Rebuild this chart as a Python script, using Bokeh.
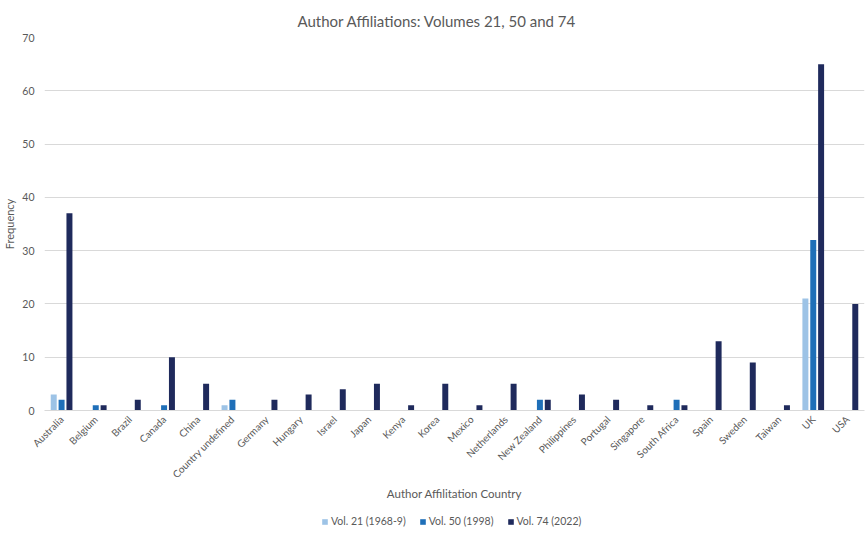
from bokeh.plotting import figure
from bokeh.layouts import column
from bokeh.models import ColumnDataSource, FactorRange, Legend, LegendItem, Range1d
from bokeh.transform import dodge
from bokeh.embed import file_html
from bokeh.resources import INLINE
import math

countries = ["Australia", "Belgium", "Brazil", "Canada", "China", "Country undefined",
             "Germany", "Hungary", "Israel", "Japan", "Kenya", "Korea", "Mexico",
             "Netherlands", "New Zealand", "Philippines", "Portugal", "Singapore",
             "South Africa", "Spain", "Sweden", "Taiwan", "UK", "USA"]
vol21 = [3, 0, 0, 0, 0, 1, 0, 0, 0, 0, 0, 0, 0, 0, 0, 0, 0, 0, 0, 0, 0, 0, 21, 0]
vol50 = [2, 1, 0, 1, 0, 2, 0, 0, 0, 0, 0, 0, 0, 0, 2, 0, 0, 0, 2, 0, 0, 0, 32, 0]
vol74 = [37, 1, 2, 10, 5, 0, 2, 3, 4, 5, 1, 5, 1, 5, 2, 3, 2, 1, 1, 13, 9, 1, 65, 20]
series_names = ["Vol. 21 (1968-9)", "Vol. 50 (1998)", "Vol. 74 (2022)"]
y_ticks = [0, 10, 20, 30, 40, 50, 60, 70]

colors = ["#9dc3e6", "#1f6fb8", "#1f2a5c"]
FONT = "Lato"
TXT = "#595959"
keys = ["v21", "v50", "v74"]
offsets = [-0.23, 0.0, 0.23]

src = ColumnDataSource(dict(country=countries, v21=vol21, v50=vol50, v74=vol74))

p = figure(width=865, height=510, x_range=FactorRange(*countries, range_padding=0),
           y_range=(0, 70), output_backend="svg", toolbar_location=None,
           min_border_left=41, min_border_right=1, min_border_top=37, min_border_bottom=100)

p.title.text = "Author Affiliations: Volumes 21, 50 and 74"
p.title.align = "left"
p.title.offset = 253
p.title.standoff = 16
p.title.text_font = FONT
p.title.text_font_size = "15px"
p.title.text_font_style = "normal"
p.title.text_color = TXT

for key, off, col in zip(keys, offsets, colors):
    p.vbar(x=dodge("country", off, range=p.x_range), top=key, width=0.175,
           source=src, fill_color=col, line_color=None)

p.outline_line_color = None
p.background_fill_color = "white"
p.border_fill_color = "white"

p.xgrid.grid_line_color = None
p.ygrid.grid_line_color = "#d9d9d9"
p.ygrid.grid_line_width = 1

p.yaxis.ticker = y_ticks
p.yaxis.axis_line_color = None
p.yaxis.major_tick_line_color = None
p.yaxis.major_tick_out = 0
p.yaxis.major_tick_in = 0
p.yaxis.minor_tick_line_color = None
p.yaxis.major_label_text_font = FONT
p.yaxis.major_label_text_font_size = "10.5px"
p.yaxis.major_label_text_color = TXT
p.yaxis.major_label_standoff = 10
p.yaxis.axis_label = "Frequency"
p.yaxis.axis_label_text_font = FONT
p.yaxis.axis_label_text_font_size = "11px"
p.yaxis.axis_label_text_font_style = "normal"
p.yaxis.axis_label_text_color = TXT
p.yaxis.axis_label_standoff = 3

p.xaxis.axis_line_color = "#d9d9d9"
p.xaxis.major_tick_line_color = None
p.xaxis.major_tick_out = 0
p.xaxis.major_tick_in = 0
p.xaxis.minor_tick_line_color = None
p.xaxis.major_label_orientation = math.pi / 4
p.xaxis.major_label_text_font = FONT
p.xaxis.major_label_text_font_size = "10px"
p.xaxis.major_label_text_color = TXT
p.xaxis.major_label_standoff = 7
p.xaxis.axis_label = "Author Affilitation Country"
p.xaxis.axis_label_text_font = FONT
p.xaxis.axis_label_text_font_size = "11.5px"
p.xaxis.axis_label_text_font_style = "normal"
p.xaxis.axis_label_text_color = TXT
p.xaxis.axis_label_standoff = 0

# legend strip below the chart (same series as zero-size bars, off its visible range)
p2 = figure(width=865, height=24, output_backend="svg", toolbar_location=None,
            x_range=p.x_range, y_range=Range1d(-2, -1),
            x_axis_location=None, y_axis_location=None,
            min_border=0, min_border_left=0, min_border_right=0,
            min_border_top=0, min_border_bottom=0)
p2.outline_line_color = None
p2.xgrid.grid_line_color = None
p2.ygrid.grid_line_color = None
leg_renderers = []
for key, off, col in zip(keys, offsets, colors):
    r = p2.vbar(x=dodge("country", off, range=p.x_range), top=key, bottom=key, width=0,
                source=src, fill_color=col, line_color=None)
    leg_renderers.append(r)

legend = Legend(items=[LegendItem(label=n, renderers=[r]) for n, r in zip(series_names, leg_renderers)],
                orientation="horizontal", location=(277, 7),
                glyph_width=7, glyph_height=7, label_height=10, label_standoff=3,
                spacing=13, padding=0, margin=0, border_line_color=None,
                background_fill_alpha=0,
                label_text_font=FONT, label_text_font_size="10.5px", label_text_color=TXT)
p2.add_layout(legend, "center")

layout = column(p, p2, spacing=0)
open("out.html", "w").write(file_html(layout, INLINE))
